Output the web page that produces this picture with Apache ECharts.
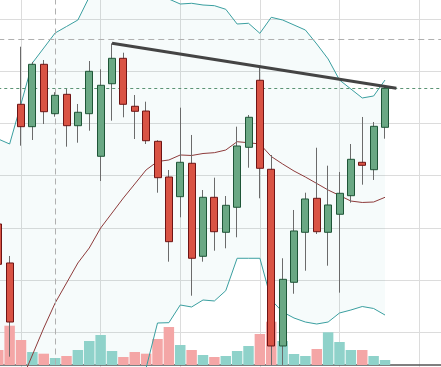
<!DOCTYPE html>
<html><head><meta charset="utf-8">
<script src="https://cdn.jsdelivr.net/npm/echarts@6/dist/echarts.min.js"></script>
<style>html,body{margin:0;padding:0;background:#fff;overflow:hidden}#c{width:441px;height:367px}</style>
</head><body><div id="c"></div>
<script>
const categories = ['1','2','3','4','5','6','7','8','9','10','11','12','13','14','15','16','17','18','19','20',
  '21','22','23','24','25','26','27','28','29','30','31','32','33','34','35','36','37','38','39','40'];
// [open, close, low, high]
const ohlc = [
  [60.75,53.03,52.40,62.00],[53.28,41.97,35.33,54.62],[83.68,79.39,75.75,94.71],[79.39,91.34,76.84,91.80],
  [91.34,82.26,79.90,92.16],[81.88,85.40,81.30,86.00],[85.59,79.58,75.56,86.74],[79.58,82.15,76.32,83.74],
  [81.88,90.00,78.62,91.97],[73.72,87.32,68.98,90.38],[87.62,92.49,80.54,95.36],[92.49,83.68,81.19,93.56],
  [83.30,82.34,77.03,85.46],[82.39,76.70,76.07,84.18],[76.59,69.62,66.74,76.80],[69.75,57.36,53.53,71.09],
  [65.98,72.57,62.03,83.03],[72.38,54.18,47.01,77.80],[54.56,65.86,53.53,67.26],[65.86,59.27,55.63,69.62],
  [59.16,64.33,56.09,66.11],[63.95,75.69,58.20,79.39],[75.44,81.19,71.53,81.63],[88.28,71.42,65.67,91.07],
  [71.23,37.38,33.74,73.97],[37.38,50.15,33.74,54.18],[49.58,59.41,47.39,63.43],[59.16,65.54,51.80,66.74],
  [65.67,59.27,58.83,75.36],[59.16,64.39,52.76,71.92],[62.61,66.63,47.59,70.71],[66.17,73.14,64.83,76.07],
  [72.57,71.99,68.28,81.25],[71.15,79.46,69.18,80.29],[79.27,86.74,77.09,87.24]
];
const volumes = [30,78.6,50,26,22.6,14,18,30,48,60,28,16,26,22.6,52,76,40,30,20,16,18,28,38,62,86.6,48,22,18,32,65.4,46,30,30,18,10];
const bollUpper = [77.03,76.07,83.74,91.59,94.46,97.34,98.58,99.83,104.23,105.19,106.34,107.11,107.87,109.02,105.57,103.85,
  102.89,103.03,102.70,102.57,101.88,99.06,99.20,97.28,100.34,99.83,98.87,97.91,95.23,92.36,88.33,86.61,84.89,85.27,88.33];
const bollLower = [22,21.5,21,21,21.5,22,23,24,25,26,27,28,29.5,33.16,41.78,41.84,45.23,44.85,46.19,46.00,47.97,54.18,54.18,
  54.18,46.19,43.89,42.74,41.97,41.59,41.97,43.70,44.27,44.94,44.56,43.31];
const bollMid = [19.37,25.11,30.48,35.65,40.82,45.61,49.44,53.28,56.15,59.98,62.85,65.73,68.41,71.11,72.72,73.01,73.97,73.87,
  74.25,74.41,74.92,76.51,76.32,76.07,73.68,72.24,70.90,69.75,68.51,67.26,66.21,65.15,64.87,64.96,65.86];
const trendStart = ['11', 95.36];
const trendEnd = ['36', 86.74];
const crosshairCategory = '6';
const crosshairPrice = 96.13;
const lastPrice = 86.74;

const bodies = ohlc.map(([o, c]) => [o, c, Math.min(o, c), Math.max(o, c)]);
const bandWidth = bollUpper.map((u, i) => +(u - bollLower[i]).toFixed(2));
const volData = volumes.map((v, i) => ({
  value: v,
  itemStyle: { color: ohlc[i][1] >= ohlc[i][0] ? '#8fd2ca' : '#f4a6a6' }
}));

const chart = echarts.init(document.getElementById('c'), null, { renderer: 'canvas' });
const hidden = { show: false };
chart.setOption({
  animation: false,
  backgroundColor: '#ffffff',
  grid: [
    { left: -1.75, right: -0.875, top: -7, bottom: -17.5, outerBoundsMode: 'none', containLabel: false },
    { left: -1.75, right: -0.875, bottom: 2, height: 50, outerBoundsMode: 'none', containLabel: false }
  ],
  xAxis: [
    { type: 'category', gridIndex: 0, data: categories, boundaryGap: false,
      axisLine: hidden, axisTick: hidden, axisLabel: hidden,
      splitLine: { show: true, interval: (i) => i % 7 === 2, lineStyle: { color: '#dcdcdc', width: 1 } } },
    { type: 'category', gridIndex: 1, data: categories, boundaryGap: false,
      axisLine: { show: true, onZero: false, lineStyle: { color: '#555', width: 1.5 } },
      axisTick: hidden, axisLabel: hidden, splitLine: hidden }
  ],
  yAxis: [
    { type: 'value', gridIndex: 0, min: 30, max: 105, interval: 10,
      axisLine: hidden, axisTick: hidden, axisLabel: hidden,
      splitLine: { show: true, lineStyle: { color: '#dcdcdc', width: 1 } } },
    { type: 'value', gridIndex: 1, min: 0, max: 100, show: false, splitLine: hidden }
  ],
  series: [
    { type: 'line', name: 'bandBase', data: bollLower, stack: 'band', symbol: 'none', silent: true,
      lineStyle: { opacity: 0 }, z: 1 },
    { type: 'line', name: 'bandFill', data: bandWidth, stack: 'band', symbol: 'none', silent: true,
      lineStyle: { opacity: 0 }, areaStyle: { color: 'rgba(58,160,160,0.065)' }, z: 1 },
    { type: 'bar', name: 'volume', xAxisIndex: 1, yAxisIndex: 1, data: volData, barWidth: '92%', z: 2 },
    { type: 'line', name: 'upper', data: bollUpper, symbol: 'none', silent: true,
      lineStyle: { color: '#3a9fa0', width: 1 }, z: 3 },
    { type: 'line', name: 'lower', data: bollLower, symbol: 'none', silent: true,
      lineStyle: { color: '#3a9fa0', width: 1 }, z: 3 },
    { type: 'line', name: 'mid', data: bollMid, symbol: 'none', silent: true,
      lineStyle: { color: '#8e3b3b', width: 1 }, z: 3,
      markLine: { silent: true, symbol: ['none', 'none'], label: hidden, animation: false,
        data: [
          { xAxis: crosshairCategory, lineStyle: { color: '#b0b0b0', type: [6, 4], width: 1 } },
          { yAxis: crosshairPrice, lineStyle: { color: '#b0b0b0', type: [6, 4], width: 1 } },
          { yAxis: lastPrice, lineStyle: { color: '#5b9474', type: [3, 3], width: 1 } }
        ] } },
    { type: 'candlestick', name: 'wicks', data: ohlc, barWidth: 1, z: 4,
      itemStyle: { color: '#6b6b6b', color0: '#6b6b6b', borderColor: '#6b6b6b', borderColor0: '#6b6b6b', borderWidth: 1 } },
    { type: 'candlestick', name: 'bodies', data: bodies, barWidth: 7.5, z: 5,
      itemStyle: { color: '#6aa884', color0: '#d95344', borderColor: '#1e5537', borderColor0: '#6e1414', borderWidth: 1 },
      markLine: { silent: true, symbol: ['none', 'none'], label: hidden, animation: false,
        lineStyle: { color: '#444', width: 3, type: 'solid' },
        data: [[{ coord: trendStart }, { coord: trendEnd }]] } }
  ]
});
</script></body></html>
